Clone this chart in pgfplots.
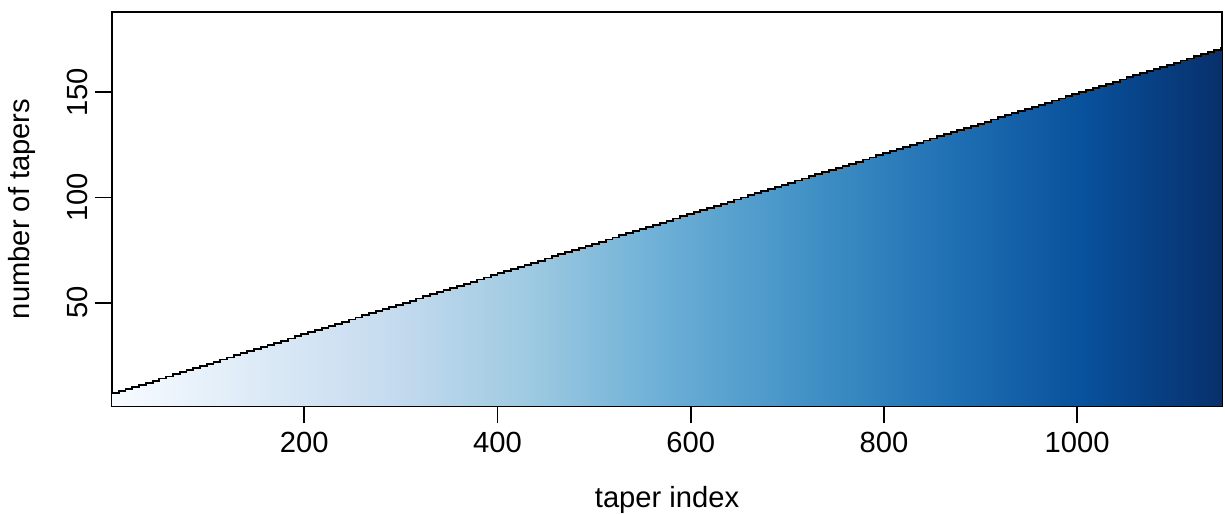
\documentclass[border=0pt]{standalone}
\usepackage{fontspec}
\setmainfont{Liberation Sans}
\usepackage{pgfplots}
\usepackage{pgfplotstable}
\pgfplotsset{compat=1.18}

\definecolor{b1}{HTML}{F7FBFF}
\definecolor{b2}{HTML}{DEEBF7}
\definecolor{b3}{HTML}{C6DBEF}
\definecolor{b4}{HTML}{9ECAE1}
\definecolor{b5}{HTML}{6BAED6}
\definecolor{b6}{HTML}{4292C6}
\definecolor{b7}{HTML}{2171B5}
\definecolor{b8}{HTML}{08519C}
\definecolor{b9}{HTML}{08306B}
\pgfdeclarehorizontalshading{blues}{100bp}{color(0bp)=(b1); color(25bp)=(b1); color(31.25bp)=(b2); color(37.5bp)=(b3); color(43.75bp)=(b4); color(50bp)=(b5); color(56.25bp)=(b6); color(62.5bp)=(b7); color(68.75bp)=(b8); color(75bp)=(b9); color(100bp)=(b9)}

\pgfplotstableread{
x y
1 7
8 8
15 9
22 10
29 11
36 12
43 13
50 14
57 15
64 16
71 17
78 18
85 19
92 20
99 21
106 22
113 23
120 24
127 25
134 26
141 27
148 28
155 29
162 30
169 31
176 32
183 33
190 34
197 35
204 36
211 37
218 38
225 39
232 40
239 41
246 42
253 43
260 44
267 45
274 46
281 47
288 48
295 49
302 50
309 51
316 52
323 53
330 54
337 55
344 56
351 57
358 58
365 59
372 60
379 61
386 62
393 63
400 64
407 65
414 66
421 67
428 68
435 69
442 70
449 71
456 72
463 73
470 74
477 75
484 76
491 77
498 78
505 79
512 80
519 81
526 82
533 83
540 84
547 85
554 86
561 87
568 88
575 89
582 90
589 91
596 92
603 93
610 94
617 95
624 96
631 97
638 98
645 99
652 100
659 101
666 102
673 103
680 104
687 105
694 106
701 107
708 108
715 109
722 110
729 111
736 112
743 113
750 114
757 115
764 116
771 117
778 118
785 119
792 120
799 121
806 122
813 123
820 124
827 125
834 126
841 127
848 128
855 129
862 130
869 131
876 132
883 133
890 134
897 135
904 136
911 137
918 138
925 139
932 140
939 141
946 142
953 143
960 144
967 145
974 146
981 147
988 148
995 149
1002 150
1009 151
1016 152
1023 153
1030 154
1037 155
1044 156
1051 157
1058 158
1065 159
1072 160
1079 161
1086 162
1093 163
1100 164
1107 165
1114 166
1121 167
1128 168
1135 169
1142 170
1149 171
1150 171
}\tapers

\begin{document}
\begin{tikzpicture}[font=\fontsize{12}{14.4}\selectfont]
\useasboundingbox (-46.1pt,-44.4pt) rectangle (457.9pt,167.0pt);
\begin{axis}[
  scale only axis,
  width=456.7pt, height=162.1pt,
  xmin=1, xmax=1150,
  ymin=1, ymax=188.1,
  xtick={200,400,600,800,1000},
  ytick={50,100,150},
  xtick pos=left, ytick pos=left,
  tick align=outside,
  major tick length=7.2pt,
  every tick/.style={black, line width=0.75pt},
  axis line style={black, line width=0.75pt},
  /pgf/number format/assume math mode=true,
  /pgf/number format/1000 sep={},
  scaled ticks=false,
  xticklabel style={anchor=north, inner sep=0pt, yshift=-3.5pt},
  yticklabel style={rotate=90, anchor=south, inner sep=0pt},
  yticklabel shift=2.7pt,
  clip=true,
]
\addplot[const plot, draw=none, shading=blues] table[x=x, y=y] {\tapers} \closedcycle;
\addplot[const plot, black, line width=0.75pt] table[x=x, y=y] {\tapers};
\end{axis}
\node[anchor=base] at (228.35pt,-42pt) {taper index};
\node[rotate=90, anchor=base] at (-34.1pt,81.05pt) {number of tapers};
\end{tikzpicture}
\end{document}
